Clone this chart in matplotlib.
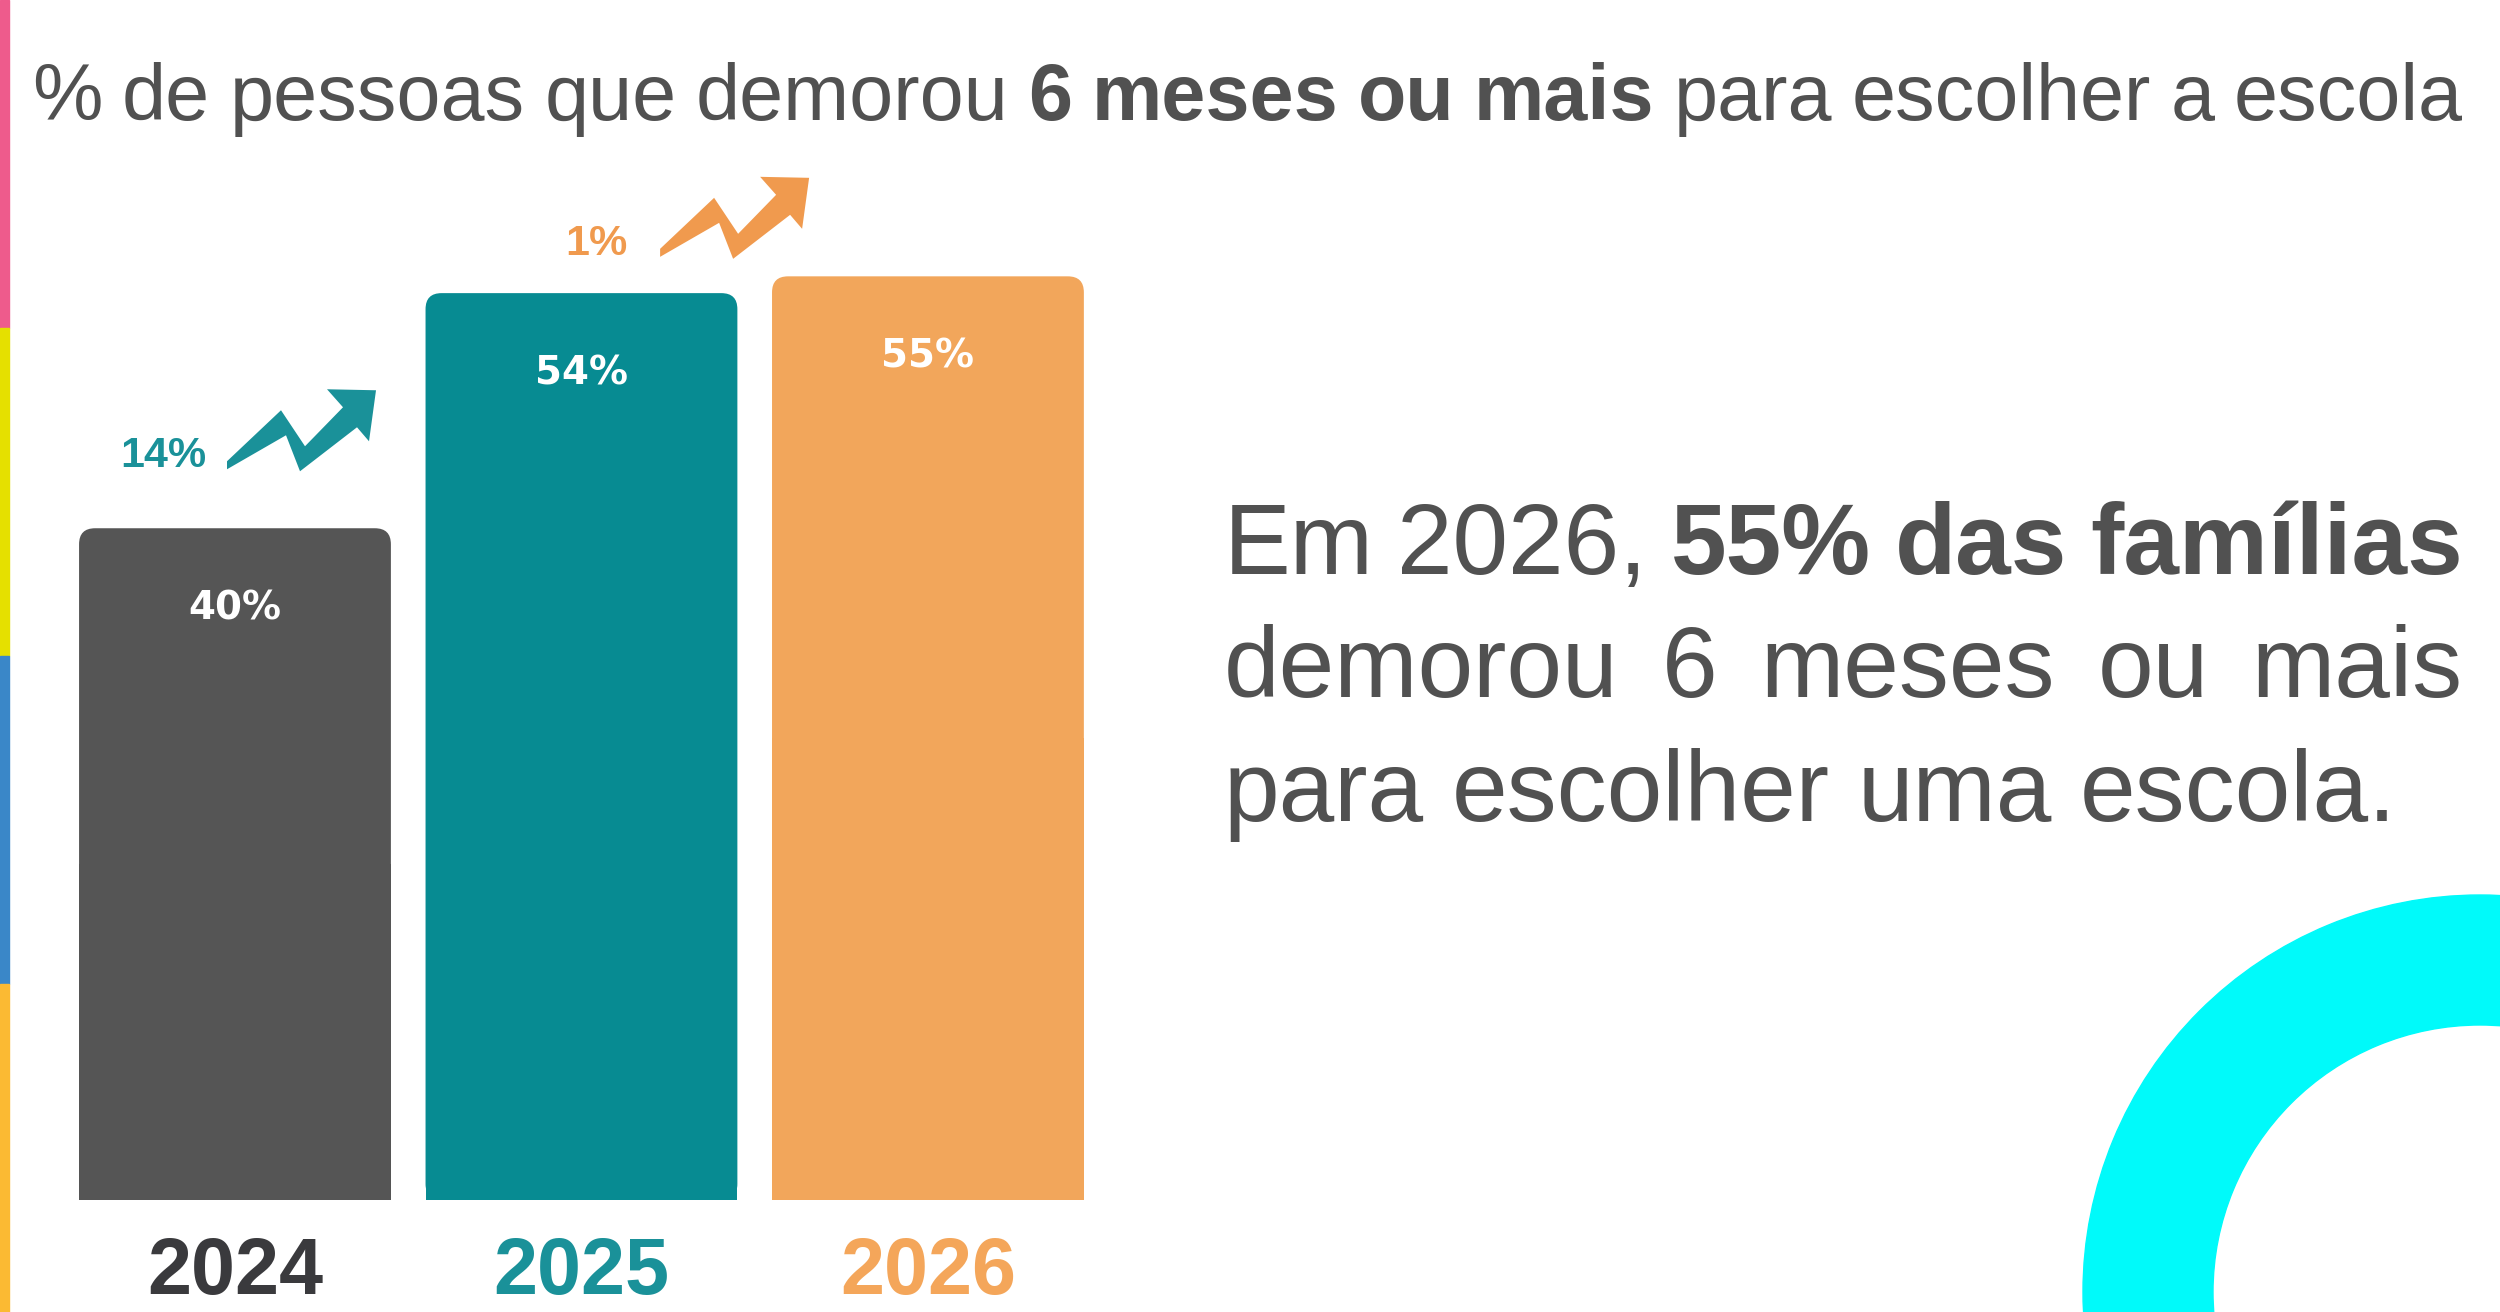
import matplotlib
matplotlib.use('Agg')
import matplotlib.pyplot as plt
from matplotlib.patches import FancyBboxPatch, Rectangle, Polygon, Wedge
from matplotlib.transforms import Affine2D, IdentityTransform

# figure size in pixels (dpi 100)
W, H = 2500, 1312

# data
years = ['2024', '2025', '2026']
values = [40, 54, 55]
bar_colors = ['#555555', '#078B92', '#F2A65B']
year_colors = ['#3A3A3D', '#1A9199', '#F4A65A']
change_colors = ['#1A9199', '#F09A4E']

title_runs = [('% de pessoas que demorou', 'normal'),
              ('6 meses ou mais', 'bold'),
              ('para escolher a escola', 'normal')]
side_lines = [[('Em 2026,', 'normal'), ('55% das famílias', 'bold')],
              [('demorou 6 meses ou mais', 'normal')],
              [('para escolher uma escola.', 'normal')]]
stripe_colors = ['#EE5B8C', '#E5E000', '#3A87C8', '#FBBA33']

TXT = '#515151'
FONT = 'Liberation Sans'

fig = plt.figure(figsize=(W / 100, H / 100), dpi=100)
fig.patch.set_facecolor('white')
rend = fig.canvas.get_renderer()


def put_line(runs, x0, y_base, size, color, x1=None):
    # place words one by one, optionally justified between x0 and x1 (pixels)
    words = [(w, wt) for txt, wt in runs for w in txt.split()]
    arts = [fig.text(0, 0, w, fontsize=size, fontweight=wt, color=color,
                     family=FONT, transform=IdentityTransform(),
                     ha='left', va='baseline') for w, wt in words]
    widths = [t.get_window_extent(rend).width for t in arts]
    if x1 is None:
        a = fig.text(0, 0, 'x x', fontsize=size, family=FONT)
        b = fig.text(0, 0, 'xx', fontsize=size, family=FONT)
        gap = a.get_window_extent(rend).width - b.get_window_extent(rend).width
        a.remove(); b.remove()
    else:
        gap = (x1 - x0 - sum(widths)) / (len(words) - 1)
    x = x0
    for t, w in zip(arts, widths):
        t.set_position((x, H - y_base))
        x += w + gap


# left colour stripe
seg = H / len(stripe_colors)
for k, c in enumerate(stripe_colors):
    fig.add_artist(Rectangle((0, H - (k + 1) * seg), 9, seg, color=c,
                             transform=IdentityTransform()))

# cyan ring bottom right
fig.add_artist(Wedge((2480, H - 1292), 397, 0, 360, width=130, color='#00FAFA',
                     transform=IdentityTransform()))

# title
put_line(title_runs, 32, 120, 57, TXT, x1=2463)

# side text
put_line(side_lines[0], 1224, 574, 72, TXT, x1=2463)
put_line(side_lines[1], 1224, 697, 72, TXT, x1=2463)
put_line(side_lines[2], 1224, 821, 72, TXT)

# bars
ax = fig.add_axes([60 / W, (H - 1200) / H, 1045 / W, 1100 / H])
ax.set_xlim(-0.505, 2.511)
ax.set_ylim(0, 65.5)
for s in ax.spines.values():
    s.set_visible(False)
ax.set_yticks([])
ax.patch.set_alpha(0)

bars = ax.bar(range(len(values)), values, width=0.9, color=bar_colors)
px_x = 1045 / (2.511 + 0.505)
px_y = 1100 / 65.5
r_x = 16 / px_x
for rect, c in zip(bars, bar_colors):
    x, w, h = rect.get_x(), rect.get_width(), rect.get_height()
    rect.set_visible(False)
    ax.add_patch(FancyBboxPatch((x, 0), w, h, boxstyle=f'round,pad=0,rounding_size={r_x}',
                                mutation_aspect=px_x / px_y, fc=c, ec='none'))
    ax.add_patch(Rectangle((x, 0), w, h / 2, fc=c, ec='none'))

for i, v in enumerate(values):
    ax.text(i, v - 4.8, f'{v}%', ha='center', va='center', color='white',
            fontsize=28, fontweight='bold', family='DejaVu Sans')

ax.set_xticks(range(len(years)), years)
ax.tick_params(axis='x', length=0, pad=26)
for lab, c in zip(ax.get_xticklabels(), year_colors):
    lab.set_color(c)
    lab.set_fontsize(57)
    lab.set_fontweight('bold')
    lab.set_family(FONT)

# zigzag arrows showing the change between years
arrow_shape = [(0, 4), (54, 55), (78, 19), (116, 58), (100, 76), (149, 75),
               (142, 24), (130, 38), (73, -6), (59, 30), (0, -4)]
arrow_tails = [(-0.023, 43.75), (1.227, 56.4)]
for i, (tail, c) in enumerate(zip(arrow_tails, change_colors)):
    tx, ty = ax.transData.transform(tail)
    tr = Affine2D().translate(tx, ty)
    fig.add_artist(Polygon(arrow_shape, closed=True, fc=c, ec='none', transform=tr))
    fig.text(tx - 64, ty + 9, f'{values[i + 1] - values[i]}%', transform=IdentityTransform(),
             ha='center', va='center', color=c, fontsize=31, fontweight='bold', family=FONT)

fig.savefig('out.png', dpi=100)
